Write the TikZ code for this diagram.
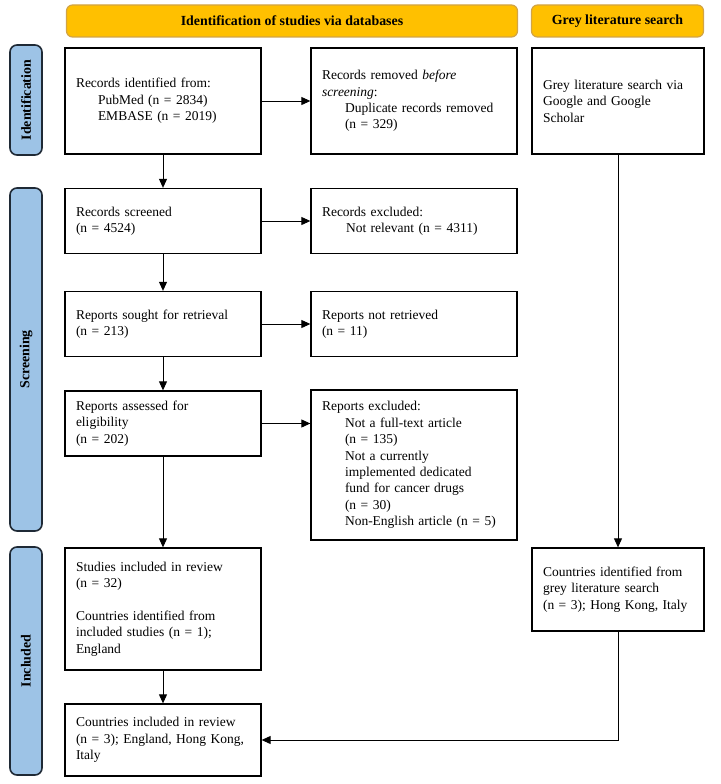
\documentclass[tikz,border=0pt]{standalone}
\usepackage{fontspec}
\setmainfont{Liberation Serif}
\usepackage{xcolor}
\usepackage{tikz}
\usetikzlibrary{arrows.meta,positioning}

\definecolor{goldfill}{HTML}{FFC000}
\definecolor{goldedge}{HTML}{D2A445}
\definecolor{phasefill}{HTML}{9DC3E6}
\definecolor{phaseedge}{HTML}{1F2A36}
\newcommand{\flowsize}{\fontsize{13.5}{16.4}\selectfont}

\begin{document}
\begin{tikzpicture}[x=1pt, y=-1pt, >={Triangle[length=9pt,width=8pt]},
                    font=\flowsize,
                    flowbox/.style={draw, line width=1.3pt, align=left,
                                    inner xsep=11pt, inner ysep=0pt},
                    colA/.style={flowbox, text width=174pt},
                    colB/.style={flowbox, text width=184pt},
                    colC/.style={flowbox, text width=150pt},
                    header/.style={draw=goldedge, fill=goldfill, line width=1.2pt,
                                   rounded corners=6pt, minimum height=32pt,
                                   font=\fontsize{13.9}{16.4}\selectfont\bfseries},
                    phase/.style={draw=phaseedge, fill=phasefill, line width=1.6pt,
                                  rounded corners=7pt, rotate=90, minimum height=32pt,
                                  font=\fontsize{13.9}{16.4}\selectfont\bfseries}]
    \useasboundingbox (0,0) rectangle (720,784);

   % headers and phases
   \node[header, minimum width=451pt] (db_head)   at (292,21)   {Identification of studies via databases};
   \node[header, minimum width=172pt] (grey_head) at (617.5,21) {Grey literature search};

   \node[phase, minimum width=110pt] (ph_ident)  at (26,100)   {Identification};
   \node[phase, minimum width=343pt] (ph_screen) at (26,359.5) {Screening};
   \node[phase, minimum width=228pt] (ph_incl)   at (26,661)   {Included};

   % identification
   \node[colA, minimum height=106pt] (rec_ident) at (163,101)
        {Records identified from:\\ \hspace*{22pt}PubMed (n = 2834)\\ \hspace*{22pt}EMBASE (n = 2019)};
   \node[colB, minimum height=106pt] (rec_removed) at (414,101)
        {Records removed \textit{before}\\ \textit{screening}:\\ \hspace*{23pt}Duplicate records removed\\ \hspace*{23pt}(n = 329)};
   \node[colC, minimum height=106pt] (grey_search) at (618,101)
        {Grey literature search via\\ Google and Google\\ Scholar};

   % screening
   \node[colA, minimum height=65pt] (rec_screened) at (163,221) {Records screened\\ (n = 4524)};
   \node[colB, minimum height=65pt] (rec_excluded) at (414,221) {Records excluded:\\ \hspace*{24pt}Not relevant (n = 4311)};
   \node[colA, minimum height=65pt] (rep_sought)   at (163,324) {Reports sought for retrieval\\ (n = 213)};
   \node[colB, minimum height=65pt] (rep_missing)  at (414,324) {Reports not retrieved\\ (n = 11)};
   \node[colA, minimum height=65pt] (rep_assessed) at (163,423.5) {Reports assessed for\\ eligibility\\ (n = 202)};
   \node[colB, minimum height=150pt] (rep_excluded) at (414,465)
        {Reports excluded:\\ \hspace*{23pt}Not a full-text article\\ \hspace*{23pt}(n = 135)\\
         \hspace*{23pt}Not a currently\\ \hspace*{23pt}implemented dedicated\\ \hspace*{23pt}fund for cancer drugs\\
         \hspace*{23pt}(n = 30)\\ \hspace*{23pt}Non-English article (n = 5)};

   % included
   \node[colA, minimum height=122pt] (stud_incl) at (163,609)
        {Studies included in review\\ (n = 32)\\[16pt] Countries identified from\\ included studies (n = 1);\\ England};
   \node[colC, minimum height=83pt] (grey_countries) at (618,589.5)
        {Countries identified from\\ grey literature search\\ (n = 3); Hong Kong, Italy};
   \node[colA, minimum height=72pt] (ctry_incl) at (163,740)
        {Countries included in review\\ (n = 3); England, Hong Kong,\\ Italy};

   % Define transitions
   \path[->, line width=0.9pt]
    (rec_ident)      edge (rec_removed)
    (rec_ident)      edge (rec_screened)
    (rec_screened)   edge (rec_excluded)
    (rec_screened)   edge (rep_sought)
    (rep_sought)     edge (rep_missing)
    (rep_sought)     edge (rep_assessed)
    (rep_assessed)   edge (rep_assessed -| rep_excluded.west)
    (rep_assessed)   edge (stud_incl)
    (stud_incl)      edge (ctry_incl)
    (grey_search)    edge (grey_countries);
   \draw[->, line width=0.9pt] (grey_countries.south) |- (ctry_incl.east);

\end{tikzpicture}
\end{document}
